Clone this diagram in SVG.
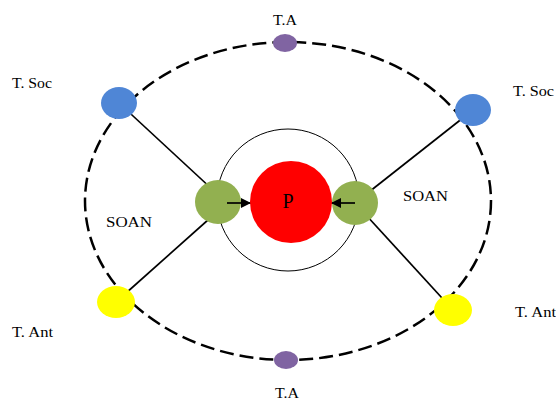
<svg xmlns="http://www.w3.org/2000/svg" width="556" height="402" viewBox="0 0 556 402">
<style>
.lbl{font-family:"Liberation Serif","Times New Roman",serif;font-size:14px;fill:#000}
.ln{stroke:#000;stroke-width:1.7;fill:none}
.ta{fill:#8064a2}
.soc{fill:#4f86d6}
.ant{fill:#ffff00}
.gr{fill:#92b050}
</style>
<defs>
<marker id="ah" viewBox="0 0 10 10" refX="10" refY="5" markerWidth="6" markerHeight="6" orient="auto" markerUnits="strokeWidth">
<path d="M0,0 L10,5 L0,10 z" fill="#000"/>
</marker>
</defs>
<rect width="556" height="402" fill="#fff"/>
<g id="orbit">
<ellipse cx="288" cy="201" rx="203" ry="159" fill="none" stroke="#000" stroke-width="2.5" stroke-dasharray="14,6"/>
</g>
<g id="inner-ring">
<circle cx="288" cy="200" r="71" fill="none" stroke="#000" stroke-width="1"/>
</g>
<g id="connectors">
<line class="ln" x1="119" y1="103" x2="227" y2="203"/>
<line class="ln" x1="116" y1="302" x2="227" y2="203"/>
<line class="ln" x1="473" y1="110" x2="355" y2="203"/>
<line class="ln" x1="453" y1="310" x2="355" y2="203"/>
</g>
<g id="green-left"><ellipse class="gr" cx="218" cy="202" rx="23" ry="22"/></g>
<g id="green-right"><ellipse class="gr" cx="355" cy="203" rx="23" ry="22"/></g>
<g id="arrows">
<line class="ln" x1="227" y1="203" x2="251" y2="203" marker-end="url(#ah)"/>
<line class="ln" x1="355" y1="203" x2="331" y2="203" marker-end="url(#ah)"/>
</g>
<g id="P">
<circle cx="291" cy="202" r="41" fill="#ff0000"/>
<text class="lbl" x="288" y="208" text-anchor="middle" style="font-size:20px">P</text>
</g>
<g id="ta-top"><ellipse class="ta" cx="285" cy="43" rx="12" ry="9"/><text class="lbl" x="273" y="25" textLength="24" lengthAdjust="spacingAndGlyphs">T.A</text></g>
<g id="ta-bottom"><ellipse class="ta" cx="286" cy="360" rx="12" ry="9"/><text class="lbl" x="275" y="398" textLength="24" lengthAdjust="spacingAndGlyphs">T.A</text></g>
<g id="soc-left"><ellipse class="soc" cx="119" cy="103" rx="18" ry="16"/><text class="lbl" x="12" y="88" textLength="40" lengthAdjust="spacingAndGlyphs">T. Soc</text></g>
<g id="soc-right"><ellipse class="soc" cx="473" cy="110" rx="18" ry="16"/><text class="lbl" x="513" y="96" textLength="41" lengthAdjust="spacingAndGlyphs">T. Soc</text></g>
<g id="ant-left"><ellipse class="ant" cx="116" cy="302" rx="19" ry="16"/><text class="lbl" x="12" y="337" textLength="41" lengthAdjust="spacingAndGlyphs">T. Ant</text></g>
<g id="ant-right"><ellipse class="ant" cx="453" cy="310" rx="19" ry="16"/><text class="lbl" x="515" y="317" textLength="41" lengthAdjust="spacingAndGlyphs">T. Ant</text></g>
<g id="soan-left"><text class="lbl" x="106" y="227" textLength="46" lengthAdjust="spacingAndGlyphs">SOAN</text></g>
<g id="soan-right"><text class="lbl" x="403" y="201" textLength="45" lengthAdjust="spacingAndGlyphs">SOAN</text></g>
</svg>
